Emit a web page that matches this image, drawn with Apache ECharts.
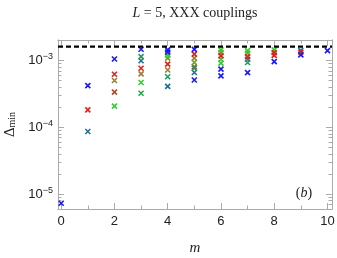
<!DOCTYPE html>
<html><head><meta charset="utf-8">
<script src="https://cdn.jsdelivr.net/npm/echarts@6/dist/echarts.min.js"></script>
<style>html,body{margin:0;padding:0;background:#fff}#c{width:337px;height:258px}</style>
</head><body><div id="c"></div>
<script>
// ---- data (m, Delta_min) ----
const blue = [[0,7.3e-6],[1,4.2e-4],[2,1.05e-3],[3,1.47e-3],[4,1.44e-3],[4,1.33e-3],[5,1.46e-3],[5,5.1e-4],[6,7.4e-4],[6,5.87e-4],[7,6.58e-4],[8,9.6e-4],[9,1.21e-3],[10,1.4e-3]];
const red = [[1,1.82e-4],[2,6.22e-4],[3,7.65e-4],[4,8.8e-4],[5,1.24e-3],[6,1.17e-3],[7,1.14e-3],[8,1.31e-3],[8,1.19e-3],[9,1.33e-3]];
const teal = [[1,8.65e-5],[3,9.9e-4],[4,4.1e-4],[5,6.6e-4],[7,1.04e-3],[9,1.42e-3]];
const olive = [[2,5.0e-4],[3,6.29e-4],[4,7.2e-4],[5,1.08e-3],[6,1.31e-3]];
const brown = [[2,3.35e-4],[5,8.0e-4]];
const green = [[2,2.07e-4],[3,4.67e-4],[4,1.2e-3],[6,1.44e-3],[6,1.04e-3],[6,9.1e-4],[7,1.4e-3],[8,1.44e-3]];
const darkGreen = [[3,3.23e-4]];
const tealGreen = [[3,1.14e-3],[4,5.7e-4],[5,7.65e-4],[7,9.3e-4]];
const oliveGreen = [[4,1.08e-3],[5,9.3e-4],[7,1.28e-3]];
const refLine = 1.61e-3;

// ---- ticks ----
const majorX = [0,2,4,6,8,10];
const minorX = [1,3,5,7,9];
const majorY = [1e-5,1e-4,1e-3];
const minorY = [6e-6,7e-6,8e-6,9e-6,2e-5,3e-5,4e-5,5e-5,6e-5,7e-5,8e-5,9e-5,2e-4,3e-4,4e-4,5e-4,6e-4,7e-4,8e-4,9e-4,2e-3];

const frame = '#ababab';
const X_MIN = -0.12, X_MAX = 10.17, Y_MIN = 6.0e-6, Y_MAX = 2.02e-3;

function xAx(pos, ticks, len, labels) {
  return {type:'value', min:X_MIN, max:X_MAX, position:pos,
    axisLine:{show:true, onZero:false, lineStyle:{color:frame, width:1}},
    axisTick:{show:true, inside:true, length:len, customValues:ticks, lineStyle:{color:frame}},
    axisLabel:{show:labels, customValues:ticks, margin:6, color:'#222', fontSize:13, fontFamily:'Liberation Sans'},
    splitLine:{show:false}};
}
function yAx(pos, ticks, len, labels) {
  return {type:'log', logBase:10, min:Y_MIN, max:Y_MAX, position:pos,
    axisLine:{show:true, onZero:false, lineStyle:{color:frame, width:1}},
    axisTick:{show:true, inside:true, length:len, customValues:ticks, lineStyle:{color:frame}},
    axisLabel:{show:labels, customValues:ticks, margin:5,
      formatter: v => '{b|10}{s|\u2212' + Math.abs(Math.round(Math.log10(v))) + '}',
      rich:{b:{fontSize:13, color:'#222', fontFamily:'Liberation Sans'},
            s:{fontSize:9, color:'#222', fontFamily:'Liberation Sans', padding:[0,0,8,0]}}},
    splitLine:{show:false}};
}

const cross = 'path://M0,0L10,10M0,10L10,0';
function sc(name, data, color) {
  return {type:'scatter', name, data, symbol:cross, symbolSize:5, xAxisIndex:0, yAxisIndex:0,
    itemStyle:{color:'none', borderColor:color, borderWidth:1.6, opacity:1}, z:3};
}

const series = [
  sc('teal', teal, '#1f6f90'),
  sc('olive', olive, '#9a8030'),
  sc('brown', brown, '#b54a22'),
  sc('tealGreen', tealGreen, '#1f9a6c'),
  sc('oliveGreen', oliveGreen, '#6aa020'),
  sc('darkGreen', darkGreen, '#22aa44'),
  sc('green', green, '#33cc33'),
  sc('red', red, '#e0201a'),
  sc('blue', blue, '#1a1af0'),
  {type:'line', name:'ref', data:[[X_MIN, refLine],[X_MAX, refLine]], xAxisIndex:0, yAxisIndex:0,
    symbol:'none', silent:true, z:5, clip:true,
    lineStyle:{color:'#000', type:[5,3], width:2.2}}
];

const chart = echarts.init(document.getElementById('c'), null, {renderer:'canvas'});
chart.setOption({
  animation:false,
  grid:{left:58, right:5, top:40, bottom:49, containLabel:false, outerBoundsMode:'none'},
  xAxis:[
    Object.assign(xAx('bottom', majorX, 6, true), {name:'m', nameLocation:'middle', nameGap:32,
      nameTextStyle:{fontFamily:'Liberation Serif', fontStyle:'italic', fontSize:15, color:'#222'}}),
    xAx('bottom', minorX, 3.5, false),
    xAx('top', majorX, 6, false),
    xAx('top', minorX, 3.5, false)
  ],
  yAxis:[
    Object.assign(yAx('left', majorY, 6, true), {name:'{d|\u0394}{s|min}', nameLocation:'middle', nameGap:39, nameRotate:90,
      nameTextStyle:{rich:{d:{fontFamily:'Liberation Serif', fontSize:15, color:'#222'},
        s:{fontFamily:'Liberation Serif', fontSize:10, color:'#222', padding:[5,0,0,0]}}}}),
    yAx('left', minorY, 3.5, false),
    yAx('right', majorY, 6, false),
    yAx('right', minorY, 3.5, false)
  ],
  graphic:[
    {type:'text', x:195, y:13, style:{text:'{i|L}{r| = 5, XXX couplings}', align:'center', verticalAlign:'middle',
      rich:{i:{fontFamily:'Liberation Serif', fontStyle:'italic', fontSize:14, fill:'#222'},
            r:{fontFamily:'Liberation Serif', fontSize:14, fill:'#222'}}}},
    {type:'text', x:304, y:193, style:{text:'{r|(}{i|b}{r|)}', align:'center', verticalAlign:'middle',
      rich:{i:{fontFamily:'Liberation Serif', fontStyle:'italic', fontSize:14, fill:'#222'},
            r:{fontFamily:'Liberation Serif', fontSize:14, fill:'#222'}}}}
  ],
  series
});
</script></body></html>
